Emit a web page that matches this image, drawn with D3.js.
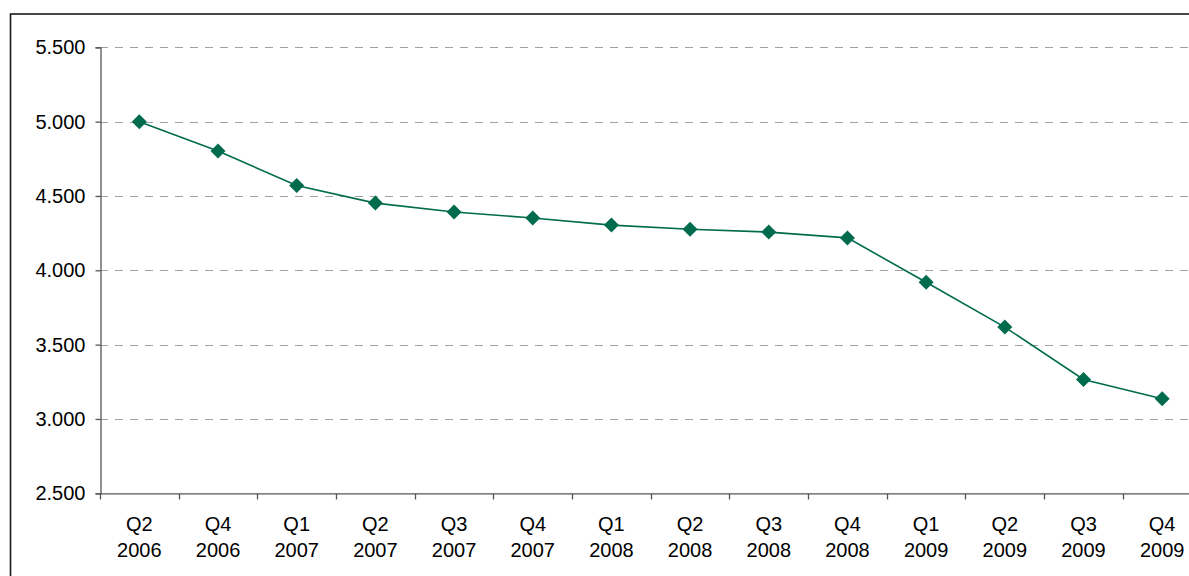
<!DOCTYPE html>
<html>
<head>
<meta charset="utf-8">
<script src="https://cdn.jsdelivr.net/npm/d3@7"></script>
<style>
  html, body { margin: 0; padding: 0; background: #fff; }
  svg { display: block; }
</style>
</head>
<body>
<svg id="chart" width="1189" height="576"></svg>
<script>
// Quarterly values
const quarters = ["Q2", "Q4", "Q1", "Q2", "Q3", "Q4", "Q1", "Q2", "Q3", "Q4", "Q1", "Q2", "Q3", "Q4"];
const years = ["2006", "2006", "2007", "2007", "2007", "2007", "2008", "2008", "2008", "2008", "2009", "2009", "2009", "2009"];
const values = [5000, 4803, 4570, 4452, 4392, 4352, 4304, 4276, 4257, 4218, 3920, 3618, 3266, 3136];
const yTicks = [2500, 3000, 3500, 4000, 4500, 5000, 5500];

const fmt = v => d3.format(",.3f")(v / 1000).replace(",", "");
const svg = d3.select("#chart");
const W = 1189, H = 576;

const keys = quarters.map((q, i) => i);
const x = d3.scaleBand().domain(keys).range([100, 1201.5]);
const y = d3.scaleLinear().domain([2500, 5500]).range([493.3, 47.3]);

// Outer frame
svg.append("rect")
  .attr("x", 10.5).attr("y", 14)
  .attr("width", W + 20).attr("height", H + 20)
  .attr("fill", "none").attr("stroke", "#1a1a1a").attr("stroke-width", 1.6);

// Dashed gridlines
svg.append("g").selectAll("line")
  .data(yTicks.filter(d => d > 2500))
  .join("line")
  .attr("x1", 100).attr("x2", W)
  .attr("y1", d => Math.round(y(d)) + 0.5).attr("y2", d => Math.round(y(d)) + 0.5)
  .attr("stroke", "#a0a0a0").attr("stroke-width", 1.2)
  .attr("stroke-dasharray", "8,7");

// Y axis
const yAxis = svg.append("g")
  .attr("transform", "translate(100.5,0)")
  .call(d3.axisLeft(y).tickValues(yTicks).tickSize(5).tickPadding(10).tickFormat(fmt));
yAxis.select(".domain").attr("stroke", "#555").attr("stroke-width", 1.3);
yAxis.selectAll(".tick line").attr("stroke", "#555").attr("stroke-width", 1.3);
yAxis.selectAll("text")
  .attr("font-family", "'Liberation Sans', Arial, sans-serif")
  .attr("font-size", 20).attr("fill", "#000");

// X axis with ticks at category boundaries
const xg = svg.append("g");
xg.append("line")
  .attr("x1", 100).attr("x2", W)
  .attr("y1", 493.8).attr("y2", 493.8)
  .attr("stroke", "#555").attr("stroke-width", 1.3);
xg.selectAll("line.tk")
  .data(keys.concat([keys.length]))
  .join("line").attr("class", "tk")
  .attr("x1", d => Math.round(x.range()[0] + d * x.bandwidth()) + 0.5)
  .attr("x2", d => Math.round(x.range()[0] + d * x.bandwidth()) + 0.5)
  .attr("y1", 493.8).attr("y2", 499.5)
  .attr("stroke", "#555").attr("stroke-width", 1.3);

const lbl = xg.selectAll("text.lbl")
  .data(keys)
  .join("text").attr("class", "lbl")
  .attr("x", d => x(d) + x.bandwidth() / 2)
  .attr("text-anchor", "middle")
  .attr("font-family", "'Liberation Sans', Arial, sans-serif")
  .attr("font-size", 20).attr("fill", "#000");
lbl.append("tspan").attr("x", d => x(d) + x.bandwidth() / 2).attr("y", 531).text(d => quarters[d]);
lbl.append("tspan").attr("x", d => x(d) + x.bandwidth() / 2).attr("y", 557).text(d => years[d]);

// Series line
const cx = i => x(i) + x.bandwidth() / 2;
svg.append("path")
  .datum(values)
  .attr("fill", "none").attr("stroke", "#006b4d").attr("stroke-width", 1.6)
  .attr("d", d3.line().x((d, i) => cx(i)).y(d => y(d)));

// Diamond markers
svg.append("g").selectAll("path")
  .data(values)
  .join("path")
  .attr("transform", (d, i) => `translate(${cx(i)},${y(d)})`)
  .attr("d", "M0,-7.5L7.5,0L0,7.5L-7.5,0Z")
  .attr("fill", "#006b4d");
</script>
</body>
</html>
